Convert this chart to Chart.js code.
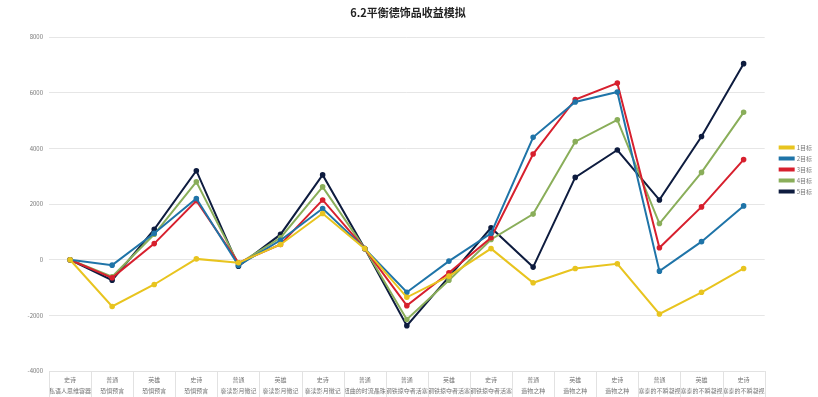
<!DOCTYPE html>
<html>
<head>
<meta charset="utf-8">
<script src="https://cdn.jsdelivr.net/npm/chart.js@4"></script>
<style>
  html, body { margin: 0; padding: 0; background: #fff; }
  #wrap { width: 818px; height: 397px; }
</style>
</head>
<body>
<div id="wrap"><canvas id="simChart" width="818" height="397"></canvas></div>
<script>
// rarity row + item name row for each category
const rarity = ['史诗', '普通', '英雄', '史诗', '普通', '英雄', '史诗', '普通', '普通', '英雄', '史诗',
  '普通', '英雄', '史诗', '普通', '英雄', '史诗'];
const items = ['私语人思维容器', '恐惧预言', '恐惧预言', '恐惧预言', '亵渎影月徽记', '亵渎影月徽记', '亵渎影月徽记',
  '扭曲的时流晶珠', '钢铁掠夺者活塞', '钢铁掠夺者活塞', '钢铁掠夺者活塞', '造物之种', '造物之种', '造物之种',
  '塞泰的不瞬凝视', '塞泰的不瞬凝视', '塞泰的不瞬凝视'];

const seriesNames = ['1目标', '2目标', '3目标', '4目标', '5目标'];
const target1 = [0, -1680, -890, 30, -110, 550, 1660, 400, -1350, -590, 400, -830, -315, -145, -1950, -1170, -315];
const target2 = [0, -195, 950, 2200, -205, 700, 1840, 400, -1170, -50, 950, 4400, 5670, 6030, -410, 650, 1935];
const target3 = [0, -650, 580, 2120, -110, 550, 2150, 400, -1650, -470, 790, 3800, 5760, 6350, 430, 1900, 3600];
const target4 = [0, -610, 915, 2800, -150, 790, 2620, 400, -2150, -735, 730, 1640, 4245, 5030, 1300, 3140, 5300];
const target5 = [0, -735, 1095, 3200, -230, 910, 3050, 400, -2370, -615, 1150, -265, 2960, 3945, 2150, 4430, 7050];
const seriesColors = ['#e8c41f', '#1f74a8', '#d7202e', '#8aae5a', '#0e1c3f'];

const yTicks = [-4000, -2000, 0, 2000, 4000, 6000, 8000];

const FONT = "'Noto Sans CJK SC', 'Noto Sans', sans-serif";

const allSeries = [target1, target2, target3, target4, target5];
const datasets = allSeries.map((vals, i) => ({
    label: seriesNames[i],
    data: vals,
    borderColor: seriesColors[i],
    backgroundColor: seriesColors[i],
    borderWidth: 2,
    pointRadius: 1.8,
    pointHoverRadius: 3,
    pointStyle: 'circle',
    tension: 0,
    fill: false
}));

// separators between the category labels under the plot (excel style)
const categorySeparators = {
    id: 'categorySeparators',
    afterDraw(chart) {
        const xs = chart.scales.x;
        const c = chart.ctx;
        const n = xs.ticks.length;
        const half = (xs.getPixelForTick(1) - xs.getPixelForTick(0)) / 2;
        c.save();
        c.strokeStyle = '#e2e2e2';
        c.lineWidth = 1;
        c.beginPath();
        for (let i = 0; i <= n; i++) {
            const px = Math.round(xs.getPixelForTick(Math.min(i, n - 1)) + (i < n ? -half : half)) + 0.5;
            c.moveTo(px, xs.top);
            c.lineTo(px, chart.height);
        }
        c.moveTo(xs.left, xs.top + 0.5);
        c.lineTo(xs.right, xs.top + 0.5);
        c.stroke();
        c.restore();
    }
};

// nudge the legend box a bit right and up, like the original sheet
const legendNudge = {
    id: 'legendNudge',
    beforeDraw(chart) {
        const lg = chart.legend;
        if (!lg || lg._nudged) return;
        lg.left += 10; lg.right += 10;
        lg.top -= 31; lg.bottom -= 31;
        lg._nudged = true;
    }
};

const ctx = document.getElementById('simChart').getContext('2d');
new Chart(ctx, {
    type: 'line',
    data: {
        labels: rarity.map((r, i) => [r, items[i]]),
        datasets: datasets
    },
    plugins: [categorySeparators, legendNudge],
    options: {
        responsive: false,
        animation: false,
        devicePixelRatio: 1,
        layout: { padding: { left: 4, right: 6, top: 4, bottom: 0 } },
        plugins: {
            title: {
                display: true,
                text: '6.2平衡德饰品收益模拟',
                color: '#222',
                font: { family: FONT, size: 11, weight: 'bold' },
                padding: { top: 2, bottom: 18 }
            },
            legend: {
                position: 'right',
                labels: {
                    color: '#777',
                    font: { family: FONT, size: 6 },
                    boxWidth: 14,
                    boxHeight: 2,
                    padding: 5
                }
            },
            tooltip: { enabled: false }
        },
        scales: {
            y: {
                min: -4000,
                max: 8000,
                afterBuildTicks: (axis) => { axis.ticks = yTicks.map(v => ({ value: v })); },
                afterFit: (axis) => { axis.width = 45; },
                border: { display: false },
                grid: { color: '#e6e6e6', drawTicks: false },
                ticks: {
                    color: '#777',
                    font: { family: FONT, size: 6 },
                    padding: 6,
                    callback: (v) => String(v)
                }
            },
            x: {
                offset: true,
                afterFit: (axis) => { axis.height = 26; },
                border: { display: false },
                grid: { display: false, drawTicks: false },
                ticks: {
                    color: '#777',
                    font: { family: FONT, size: 6, lineHeight: 1.9 },
                    padding: 3,
                    maxRotation: 0,
                    minRotation: 0,
                    autoSkip: false
                }
            }
        }
    }
});
</script>
</body>
</html>
